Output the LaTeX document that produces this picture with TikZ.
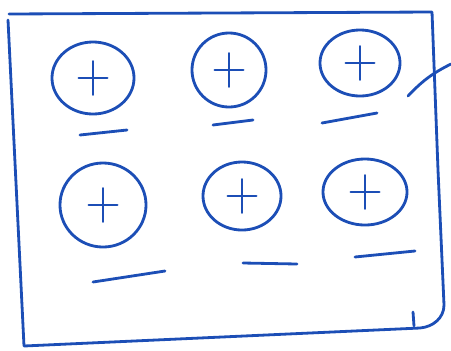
\documentclass[tikz,border=0pt]{standalone}
\usetikzlibrary{shapes.geometric}
\definecolor{inkBlue}{RGB}{28,78,182}
\begin{document}
\begin{tikzpicture}[x=0.025cm, y=-0.025cm, line cap=round, line join=round,
    ink/.style={inkBlue, line width=2pt},
    charge/.style={ellipse, draw=inkBlue, line width=2pt, inner sep=0pt}]
  \useasboundingbox (0,0) rectangle (451,350);
  % sheet frame
  \draw[ink] (9,14) -- (432,12) -- (438,170) -- (444,305) to[out=-90,in=5] (420,328) -- (24,346) -- (8,20);
  \draw[ink] (408,96) to[bend left=10] (451,64);
  \draw[ink] (413,312) -- (414,326);
  % positive charges
  \foreach \n/\x/\y/\rx/\ry in {p1/93/78/41/36, p2/229/70/37/37, p3/360/63/40/33,
                                p4/103/205/43/42, p5/242/196/39/34, p6/365/192/42/33}{
    \node[charge, minimum width={\rx*0.05cm}, minimum height={\ry*0.05cm}] (\n) at (\x,\y) {};
    \draw[ink, line width=1.6pt] ([xshift=-0.36cm]\n.center) -- ([xshift=0.36cm]\n.center)
      ([yshift=0.42cm]\n.center) -- ([yshift=-0.42cm]\n.center);}
  % negative charges
  \foreach \xa/\ya/\xb/\yb in {80/135/127/130, 213/125/253/120, 322/123/377/113,
                               93/282/165/271, 243/263/297/264, 355/257/415/251}{
    \draw[ink] (\xa,\ya) -- (\xb,\yb);}
\end{tikzpicture}
\end{document}
